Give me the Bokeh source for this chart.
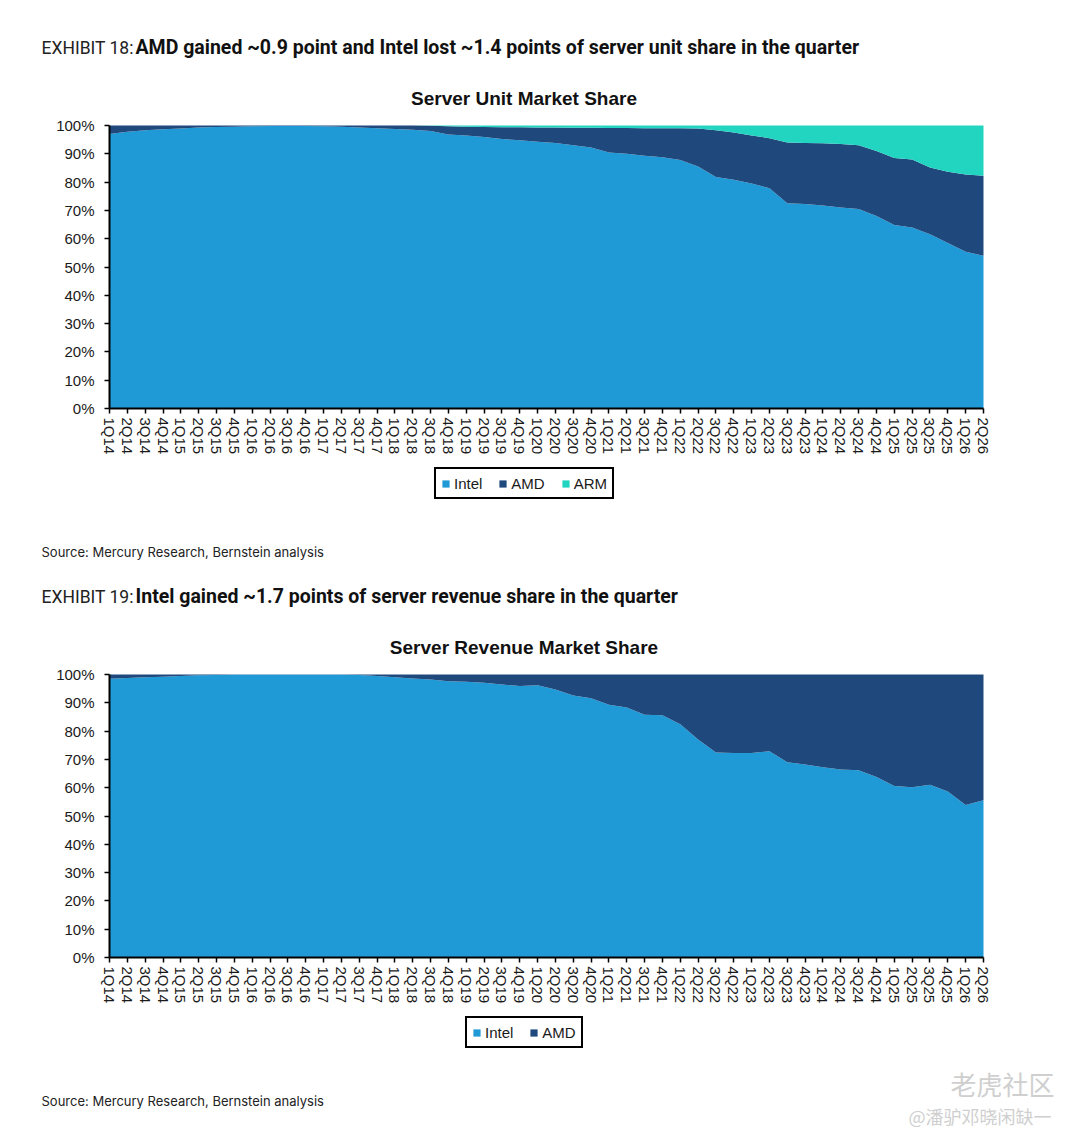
from bokeh.plotting import figure
from bokeh.models import (Range1d, FixedTicker, PrintfTickFormatter, Legend,
                          LegendItem, Label, ColumnDataSource)
from bokeh.layouts import column
from bokeh.embed import file_html
from bokeh.resources import INLINE

# ---------------- data ----------------
quarters = ["1Q14", "2Q14", "3Q14", "4Q14", "1Q15", "2Q15", "3Q15", "4Q15",
            "1Q16", "2Q16", "3Q16", "4Q16", "1Q17", "2Q17", "3Q17", "4Q17",
            "1Q18", "2Q18", "3Q18", "4Q18", "1Q19", "2Q19", "3Q19", "4Q19",
            "1Q20", "2Q20", "3Q20", "4Q20", "1Q21", "2Q21", "3Q21", "4Q21",
            "1Q22", "2Q22", "3Q22", "4Q22", "1Q23", "2Q23", "3Q23", "4Q23",
            "1Q24", "2Q24", "3Q24", "4Q24", "1Q25", "2Q25", "3Q25", "4Q25",
            "1Q26", "2Q26"]

unit_intel = [97.0, 97.8, 98.3, 98.7, 98.9, 99.3, 99.5, 99.6, 99.7, 99.8,
              99.8, 99.8, 99.7, 99.6, 99.3, 99.0, 98.8, 98.5, 98.1, 96.8,
              96.5, 95.9, 95.2, 94.8, 94.3, 93.8, 93.0, 92.2, 90.5, 90.0,
              89.3, 88.8, 87.8, 85.5, 81.8, 80.8, 79.5, 77.8, 72.5, 72.3,
              71.7, 71.0, 70.5, 68.0, 64.8, 64.0, 61.6, 58.5, 55.4, 54.0]
unit_amd = [3.0, 2.2, 1.7, 1.3, 1.1, 0.7, 0.5, 0.4, 0.3, 0.2,
            0.2, 0.2, 0.3, 0.4, 0.7, 1.0, 1.2, 1.5, 1.8, 2.9,
            3.1, 3.6, 4.2, 4.6, 5.0, 5.5, 6.2, 7.0, 8.6, 9.1,
            9.7, 10.2, 11.2, 13.4, 16.5, 16.7, 17.0, 17.7, 21.5, 21.5,
            22.0, 22.5, 22.5, 23.0, 23.7, 24.0, 23.6, 25.2, 27.3, 28.2]
unit_arm = [0.0, 0.0, 0.0, 0.0, 0.0, 0.0, 0.0, 0.0, 0.0, 0.0,
            0.0, 0.0, 0.0, 0.0, 0.0, 0.0, 0.0, 0.0, 0.1, 0.3,
            0.4, 0.5, 0.6, 0.6, 0.7, 0.7, 0.8, 0.8, 0.9, 0.9,
            1.0, 1.0, 1.0, 1.1, 1.7, 2.5, 3.5, 4.5, 6.0, 6.2,
            6.3, 6.5, 7.0, 9.0, 11.5, 12.0, 14.8, 16.3, 17.3, 17.8]

rev_intel = [98.5, 98.8, 99.0, 99.2, 99.5, 99.7, 99.8, 99.9, 99.9, 99.9,
             99.9, 99.9, 99.9, 99.9, 99.8, 99.5, 99.0, 98.6, 98.2, 97.6,
             97.4, 97.1, 96.5, 95.9, 96.2, 94.7, 92.6, 91.6, 89.3, 88.3,
             85.8, 85.6, 82.4, 77.0, 72.4, 72.3, 72.3, 72.9, 69.0, 68.2,
             67.2, 66.4, 66.2, 63.8, 60.6, 60.2, 61.0, 58.7, 53.9, 55.6]
rev_amd = [1.5, 1.2, 1.0, 0.8, 0.5, 0.3, 0.2, 0.1, 0.1, 0.1,
           0.1, 0.1, 0.1, 0.1, 0.2, 0.5, 1.0, 1.4, 1.8, 2.4,
           2.6, 2.9, 3.5, 4.1, 3.8, 5.3, 7.4, 8.4, 10.7, 11.7,
           14.2, 14.4, 17.6, 23.0, 27.6, 27.7, 27.7, 27.1, 31.0, 31.8,
           32.8, 33.6, 33.8, 36.2, 39.4, 39.8, 39.0, 41.3, 46.1, 44.4]

y_ticks = [0, 10, 20, 30, 40, 50, 60, 70, 80, 90, 100]

INTEL_C = "#1f9ad6"
AMD_C = "#1f497d"
ARM_C = "#22d5c1"

HEAD_FONT = "Roboto"
ARIAL = "Liberation Sans"
SRC_FONT = "Inter"

W = 1076
PLOT_L, PLOT_R = 109, 983      # pixel columns of first / last quarter
PLOT_H = 283                   # pixel height of 0..100 %


def make_chart(height, top_px, cols, names, labels, colors, exhibit, headline,
               title, legend_xy, head_base, title_base, src_base, watermark=False):
    n = len(quarters) - 1
    kx = (PLOT_R - PLOT_L) / n
    ky = PLOT_H / 100.0
    bottom_px = top_px + PLOT_H
    x_rng = Range1d(-PLOT_L / kx, (W - PLOT_L) / kx)
    y_rng = Range1d((bottom_px - height) / ky, bottom_px / ky)
    p = figure(width=W, height=height, x_range=x_rng, y_range=y_rng,
               output_backend="svg", toolbar_location=None,
               min_border_left=0, min_border_right=0,
               min_border_top=0, min_border_bottom=0)
    p.outline_line_color = None
    p.background_fill_color = "white"
    p.border_fill_color = "white"
    p.xgrid.visible = False
    p.ygrid.visible = False

    data = dict(x=list(range(len(quarters))))
    data.update(cols)
    src = ColumnDataSource(data)
    rs = p.varea_stack(names, x="x", source=src, color=colors)

    # axes drawn at data 0, limited to the data extent
    p.yaxis.fixed_location = 0
    p.yaxis.bounds = (0, 100)
    p.xaxis.fixed_location = 0
    p.xaxis.bounds = (0, n)
    p.yaxis.ticker = FixedTicker(ticks=y_ticks)
    p.yaxis.formatter = PrintfTickFormatter(format="%d%%")
    p.xaxis.ticker = FixedTicker(ticks=list(range(len(quarters))))
    p.xaxis.major_label_overrides = {i: q for i, q in enumerate(quarters)}
    p.xaxis.major_label_orientation = "vertical"
    for ax in (p.xaxis, p.yaxis):
        ax.axis_line_color = "black"
        ax.axis_line_width = 2
        ax.major_tick_line_color = "black"
        ax.major_tick_line_width = 1.5
        ax.major_tick_out = 5
        ax.major_tick_in = 0
        ax.minor_tick_line_color = None
        ax.major_label_text_font = ARIAL
        ax.major_label_text_font_size = "15px"
        ax.major_label_text_color = "#1a1a1a"
    p.yaxis.major_label_standoff = 10
    p.xaxis.major_label_standoff = 4

    # legend (location = lower-left corner, pixels from the canvas' lower-left)
    items = [LegendItem(label=lab, renderers=[r]) for lab, r in zip(labels, rs)]
    leg = Legend(items=items, location=legend_xy, orientation="horizontal",
                 border_line_color="black", border_line_width=2,
                 border_line_alpha=1,
                 background_fill_color="white", background_fill_alpha=1,
                 label_text_font=ARIAL, label_text_font_size="15px",
                 label_text_color="#1a1a1a",
                 glyph_width=9, glyph_height=9, label_standoff=4,
                 spacing=16, padding=5, margin=0, label_height=18)
    p.add_layout(leg)

    # texts: x from left edge, baseline given as pixel row from the top
    def lab(x, base, text, font, size, style="normal", color="#111111", align="left"):
        p.add_layout(Label(x=x, y=height - base, x_units="screen", y_units="screen",
                           text=text, text_font=font, text_font_size=size,
                           text_font_style=style, text_color=color,
                           text_align=align, text_baseline="alphabetic"))

    lab(41, head_base, exhibit, HEAD_FONT, "17.5px", color="#222222")
    lab(135, head_base, headline, HEAD_FONT, "19.5px", style="bold")
    lab(523.5, title_base, title, ARIAL, "19px", style="bold", align="center")
    lab(41, src_base, "Source: Mercury Research, Bernstein analysis", SRC_FONT,
        "13px", color="#222222")
    if watermark:
        lab(950, 521, "老虎社区", "Noto Sans CJK SC", "26px", color="#cfcfcf")
        lab(908, 553, "@潘驴邓晓闲缺一", "Noto Sans CJK SC", "18px", color="#cfcfcf")
    return p


p1 = make_chart(562, 125,
                dict(intel=unit_intel, amd=unit_amd, arm=unit_arm),
                ["intel", "amd", "arm"], ["Intel", "AMD", "ARM"],
                [INTEL_C, AMD_C, ARM_C],
                "EXHIBIT 18:",
                "AMD gained ~0.9 point and Intel lost ~1.4 points of server unit share in the quarter",
                "Server Unit Market Share", (434, 63), 47, 98, 551)
p2 = make_chart(566, 112,
                dict(intel=rev_intel, amd=rev_amd),
                ["intel", "amd"], ["Intel", "AMD"],
                [INTEL_C, AMD_C],
                "EXHIBIT 19:",
                "Intel gained ~1.7 points of server revenue share in the quarter",
                "Server Revenue Market Share", (465, 80), 34, 85, 538, watermark=True)

layout = column(p1, p2, spacing=0)
open("out.html", "w").write(file_html(layout, INLINE))
